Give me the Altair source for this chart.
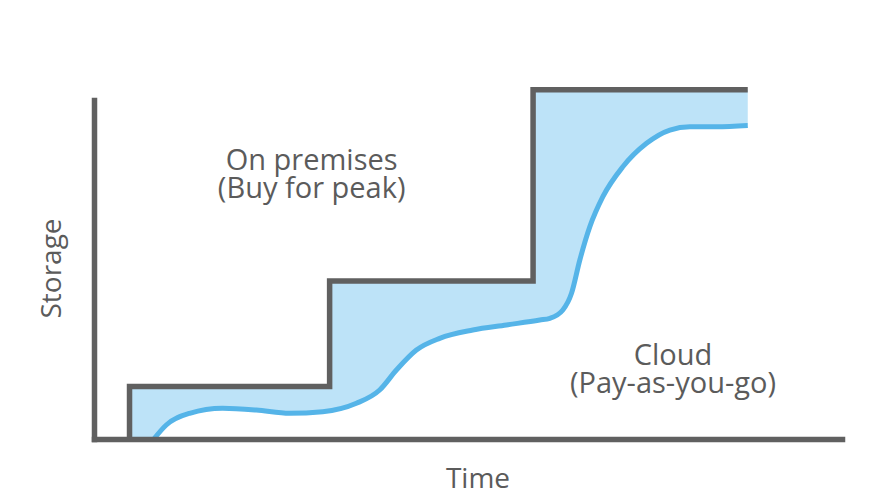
import altair as alt
import pandas as pd

# Step line: on-premises capacity (time, storage)
step_x = [4.75, 31.5, 58.7, 87.4]
step_y = [15.5, 46.6, 103.0, 103.0]

# Smooth curve: cloud usage (time, storage)
curve_x = [8.0, 9.66, 12.78, 17.19, 21.70, 26.15, 30.57, 35.08, 38.19, 40.43, 43.10,
           46.22, 50.64, 55.14, 59.60, 60.94, 62.68, 63.84, 64.95, 66.29, 68.03,
           70.70, 73.87, 76.99, 79.67, 83.24, 87.4]
curve_y = [0.0, 4.13, 7.58, 9.06, 8.55, 7.58, 8.05, 10.53, 14.45, 20.35, 26.25,
           29.70, 32.15, 33.63, 35.10, 35.60, 38.05, 42.98, 52.80, 62.63, 71.48,
           80.32, 87.23, 91.15, 92.12, 92.12, 92.48]

label_text = ["On premises\n(Buy for peak)", "Cloud\n(Pay-as-you-go)"]
label_x = [29.1, 77.4]
label_y = [79.35, 21.8]

DARK = "#606060"
TEXT = "#5b5b5b"
BLUE = "#55b4e8"
FILL = "#bde3f8"
FONT = "Open Sans"

xs = alt.Scale(domain=[0, 100], nice=False)
ys = alt.Scale(domain=[0, 100], nice=False)

step_area_df = pd.DataFrame({"t": step_x, "s": step_y})
step_line_df = pd.DataFrame({"t": [step_x[0]] + step_x, "s": [0.0] + step_y,
                             "o": list(range(len(step_x) + 1))})
curve_df = pd.DataFrame({"t": curve_x, "s": curve_y, "o": list(range(len(curve_x)))})
label_df = pd.DataFrame({"text": label_text, "t": label_x, "s": label_y})

x_axis = alt.Axis(title="Time", domain=True, domainColor=DARK, domainWidth=5.5,
                  domainCap="square", ticks=False, labels=False, grid=False,
                  titleFont=FONT, titleFontSize=28, titleFontWeight="normal",
                  titleColor=TEXT, titleX=383.5, titleY=48, titleBaseline="alphabetic",
                  titleAlign="center", zindex=1)
y_axis = alt.Axis(title="Storage", domain=True, domainColor=DARK, domainWidth=5.5,
                  domainCap="square", ticks=False, labels=False, grid=False,
                  titleFont=FONT, titleFontSize=28, titleFontWeight="normal",
                  titleColor=TEXT, titleAngle=270, titleX=-33.5, titleY=168,
                  titleBaseline="alphabetic", titleAlign="center", zindex=1)

step_area = alt.Chart(step_area_df).mark_area(
    interpolate="step-after", color=FILL, opacity=1
).encode(
    x=alt.X("t:Q", scale=xs, axis=x_axis),
    y=alt.Y("s:Q", scale=ys, axis=y_axis, stack=None),
)

white_area = alt.Chart(curve_df).mark_area(
    interpolate="monotone", fill="white", stroke="white", strokeWidth=1.5, opacity=1
).encode(
    x=alt.X("t:Q", scale=xs),
    y=alt.Y("s:Q", scale=ys, stack=None),
)

curve_line = alt.Chart(curve_df).mark_line(
    interpolate="monotone", color=BLUE, strokeWidth=5
).encode(
    x=alt.X("t:Q", scale=xs),
    y=alt.Y("s:Q", scale=ys),
    order="o:Q",
)

step_line = alt.Chart(step_line_df).mark_line(
    interpolate="step-after", color=DARK, strokeWidth=5.5, strokeJoin="miter"
).encode(
    x=alt.X("t:Q", scale=xs),
    y=alt.Y("s:Q", scale=ys),
    order="o:Q",
)

labels = alt.Chart(label_df).mark_text(
    font=FONT, fontSize=29, color=TEXT, align="center", baseline="alphabetic",
    lineBreak="\n", lineHeight=28
).encode(
    x=alt.X("t:Q", scale=xs),
    y=alt.Y("s:Q", scale=ys),
    text="text:N",
)

chart = alt.layer(step_area, white_area, curve_line, step_line, labels).properties(
    width=748, height=339,
    autosize=alt.AutoSizeParams(type="none"),
    padding={"left": 86, "top": 92, "right": 34, "bottom": 56},
    background="white",
).configure_view(stroke=None)

chart.save("out.html", embed_options={"renderer": "svg", "actions": False})
